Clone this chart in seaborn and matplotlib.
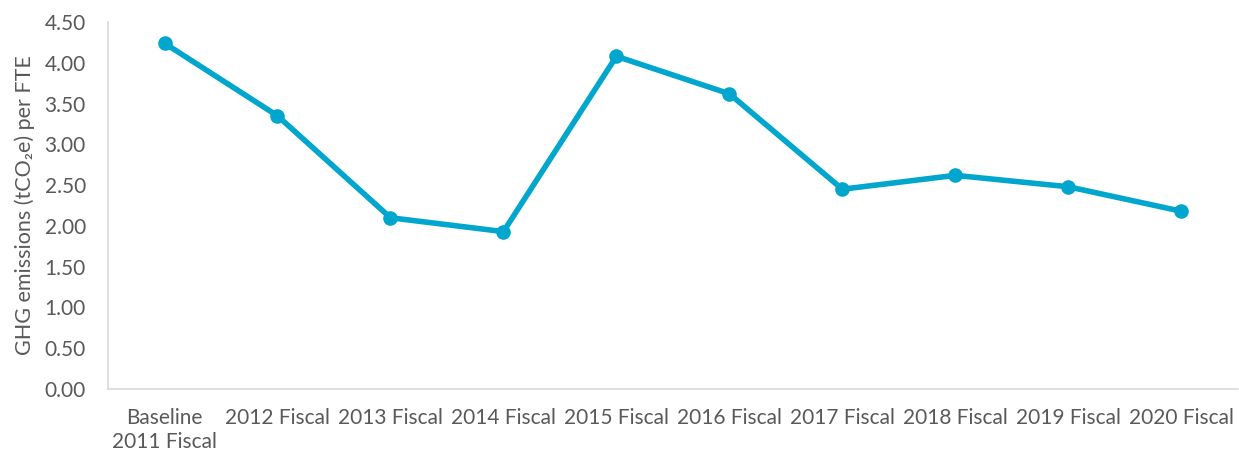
import numpy as np
import pandas as pd
import matplotlib
matplotlib.use("Agg")
import matplotlib.pyplot as plt
import seaborn as sns
from matplotlib.ticker import FixedLocator

years  = ["Baseline\n2011 Fiscal", "2012 Fiscal", "2013 Fiscal", "2014 Fiscal",
          "2015 Fiscal", "2016 Fiscal", "2017 Fiscal", "2018 Fiscal",
          "2019 Fiscal", "2020 Fiscal"]
ghg_per_fte = [4.24, 3.35, 2.10, 1.93, 4.08, 3.62, 2.45, 2.62, 2.48, 2.18]
y_ticks = [0.0, 0.5, 1.0, 1.5, 2.0, 2.5, 3.0, 3.5, 4.0, 4.5]

sns.set_style("white")
plt.rcParams["font.family"] = ["Lato", "DejaVu Sans"]
text_col = "#595959"
line_col = "#00A6CE"

df = pd.DataFrame({"year": years, "ghg": ghg_per_fte})

fig = plt.figure(figsize=(12.39, 4.59), dpi=100)
ax = fig.add_axes([0.0872, 0.1525, 0.9118, 0.7995])
sns.lineplot(data=df, x="year", y="ghg", ax=ax, color=line_col, lw=4,
             marker="o", markersize=10.5, markeredgewidth=0, sort=False)

ax.set_xlim(-0.5, len(years) - 0.5)
ax.set_ylim(0, 4.5)
ax.set_yticks(y_ticks)
ax.set_yticklabels([f"{v:.2f}" for v in y_ticks])
ax.set_xlabel("")
ax.set_ylabel("GHG emissions (tCO₂e) per FTE", fontsize=15.5, color=text_col, labelpad=7)

ax.xaxis.set_minor_locator(FixedLocator(np.arange(-0.5, len(years), 1.0)))
ax.tick_params(axis="x", which="major", length=0, pad=14, labelsize=15, labelcolor=text_col)
ax.tick_params(axis="x", which="minor", length=9, width=1, color="#D9D9D9", direction="out")
ax.tick_params(axis="y", length=0, pad=16, labelsize=15, labelcolor=text_col)

for s in ["top", "right"]:
    ax.spines[s].set_visible(False)
for s in ["left", "bottom"]:
    ax.spines[s].set_color("#D9D9D9")
    ax.spines[s].set_linewidth(1.2)

fig.savefig("out.png", dpi=100)
